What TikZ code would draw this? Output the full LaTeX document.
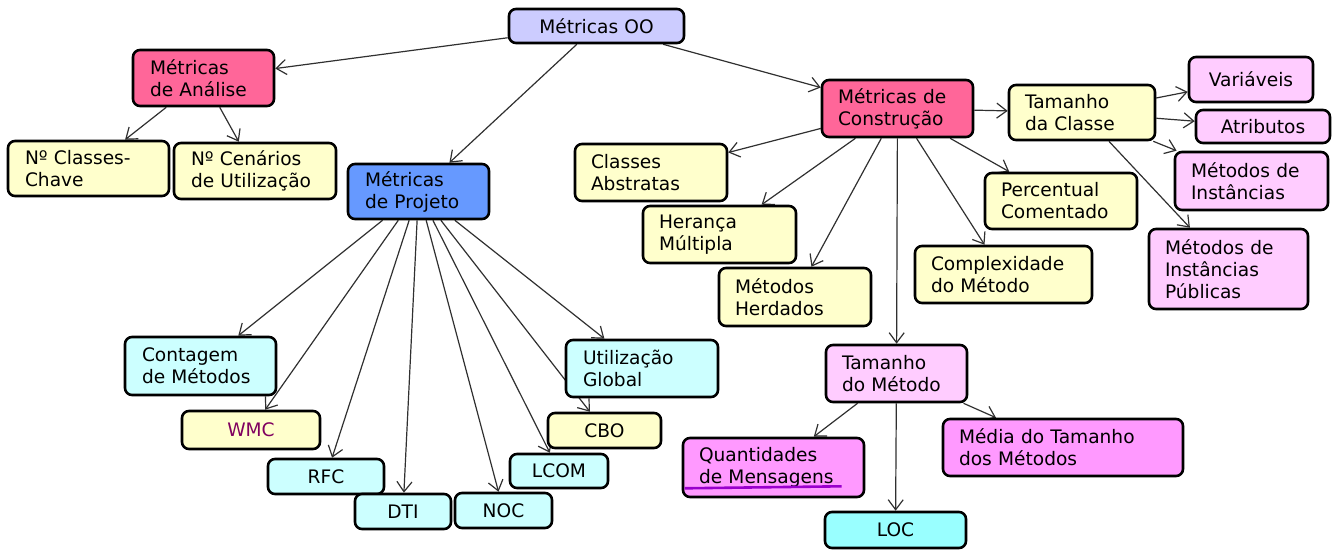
\documentclass[tikz,border=0pt]{standalone}
\usepackage{fontspec}
\setmainfont{DejaVu Sans}
\usetikzlibrary{arrows.meta}
\pgfdeclarelayer{bg}
\pgfsetlayers{bg,main}

\definecolor{cLav}{HTML}{CCCCFF}
\definecolor{cRose}{HTML}{FF6699}
\definecolor{cBlue}{HTML}{6699FF}
\definecolor{cYel}{HTML}{FFFFCC}
\definecolor{cPinkL}{HTML}{FFCCFF}
\definecolor{cMag}{HTML}{FF99FF}
\definecolor{cCyanL}{HTML}{CCFFFF}
\definecolor{cCyan}{HTML}{99FFFF}
\definecolor{cWmc}{HTML}{800060}
\definecolor{cLine}{HTML}{303030}
\definecolor{cSquig}{HTML}{9900CC}

\tikzset{
  box/.style={draw=black, line width=2.6pt, rounded corners=7pt,
    inner xsep=17pt, inner ysep=2pt, align=left,
    font=\fontsize{18.6}{22}\selectfont},
  cbox/.style={box, align=center},
  arr/.style={draw=cLine, line width=1.2pt,
    -{Straight Barb[length=10pt,width=15pt,line width=1.2pt]}},
}

\begin{document}
\begin{tikzpicture}[x=1pt, y=-1pt]
\useasboundingbox (0,0) rectangle (1342,554);

% root
\node[cbox, fill=cLav, text width=141pt, minimum height=34pt] (oo) at (596.5,26) {Métricas OO};

% analysis metrics
\node[box, fill=cRose, text width=107pt, minimum height=56pt] (ana) at (203.5,78) {Métricas\\de Análise};
\node[box, fill=cYel, text width=127pt, minimum height=55pt] (chave) at (88.5,168.5) {Nº Classes-\\Chave};
\node[box, fill=cYel, text width=128pt, minimum height=56pt] (cen) at (255,171) {Nº Cenários\\de Utilização};

% design metrics
\node[box, fill=cBlue, text width=107pt, minimum height=55pt] (proj) at (418.5,191.5) {Métricas\\de Projeto};
\node[box, fill=cCyanL, text width=117pt, minimum height=58pt] (cont) at (200.5,366) {Contagem\\de Métodos};
\node[cbox, fill=cYel, text width=104pt, minimum height=38pt, text=cWmc] (wmc) at (251,430) {WMC};
\node[cbox, fill=cCyanL, text width=82pt, minimum height=35pt] (rfc) at (326,476.5) {RFC};
\node[cbox, fill=cCyanL, text width=62pt, minimum height=35pt] (dti) at (403,511.5) {DTI};
\node[cbox, fill=cCyanL, text width=63pt, minimum height=35pt] (noc) at (503.5,510.5) {NOC};
\node[cbox, fill=cCyanL, text width=64pt, minimum height=34pt] (lcom) at (559,471) {LCOM};
\node[cbox, fill=cYel, text width=79pt, minimum height=35pt] (cbo) at (604.5,430.5) {CBO};
\node[box, fill=cCyanL, text width=118pt, minimum height=57pt] (ug) at (642,368.5) {Utilização\\Global};

% construction metrics
\node[box, fill=cRose, text width=119pt, minimum height=57pt, inner xsep=16pt] (cons) at (897.5,108.5) {Métricas de\\Construção};
\node[box, fill=cYel, text width=114pt, minimum height=55pt, inner xsep=16pt] (tcl) at (1082,112.5) {Tamanho\\da Classe};
\node[cbox, fill=cPinkL, text width=90pt, minimum height=45pt] (var) at (1251,79.5) {Variáveis};
\node[cbox, fill=cPinkL, text width=100pt, minimum height=33pt] (atr) at (1263,126.5) {Atributos};
\node[box, fill=cPinkL, text width=121pt, minimum height=58pt, inner xsep=16pt] (mi) at (1251.5,181) {Métodos de\\Instâncias};
\node[box, fill=cPinkL, text width=127pt, minimum height=80pt, inner xsep=16pt] (mip) at (1228.5,269) {Métodos de\\Instâncias\\Públicas};
\node[box, fill=cYel, text width=120pt, minimum height=56pt, inner xsep=16pt] (perc) at (1061,201) {Percentual\\Comentado};
\node[box, fill=cYel, text width=145pt, minimum height=57pt, inner xsep=16pt] (comp) at (1003.5,274.5) {Complexidade\\do Método};
\node[box, fill=cYel, text width=120pt, minimum height=57pt, inner xsep=16pt] (abs) at (651,172.5) {Classes\\Abstratas};
\node[box, fill=cYel, text width=121pt, minimum height=57pt, inner xsep=16pt] (her) at (719.5,234.5) {Herança\\Múltipla};
\node[box, fill=cYel, text width=120pt, minimum height=58pt, inner xsep=16pt] (hdd) at (795,297) {Métodos\\Herdados};
\node[box, fill=cPinkL, text width=109pt, minimum height=57pt, inner xsep=16pt] (tm) at (896.5,373.5) {Tamanho\\do Método};
\node[box, fill=cMag, text width=149pt, minimum height=59pt, inner xsep=16pt] (qm) at (773.5,467.5) {Quantidades\\de Mensagens};
\node[box, fill=cMag, text width=208pt, minimum height=57pt, inner xsep=16pt] (med) at (1063,447.5) {Média do Tamanho\\dos Métodos};
\node[cbox, fill=cCyan, text width=107pt, minimum height=36pt] (loc) at (895.5,530) {LOC};

% wavy mark under the second line of "Quantidades de Mensagens"
\draw[cSquig, line width=2.6pt] ([shift={(3pt,10pt)}]qm.south west) -- ([shift={(160pt,12pt)}]qm.south west);

\begin{pgfonlayer}{bg}
  \foreach \a/\b in {oo/ana, oo/proj, oo/cons,
      ana/chave, ana/cen,
      proj/cont, proj/wmc, proj/rfc, proj/dti, proj/noc, proj/lcom, proj/cbo, proj/ug,
      cons/tcl, cons/abs, cons/her, cons/hdd, cons/tm, cons/comp, cons/perc,
      tcl/var, tcl/atr, tcl/mi, tcl/mip,
      tm/qm, tm/loc, tm/med}
    \draw[arr] (\a) -- (\b);
\end{pgfonlayer}
\end{tikzpicture}
\end{document}
